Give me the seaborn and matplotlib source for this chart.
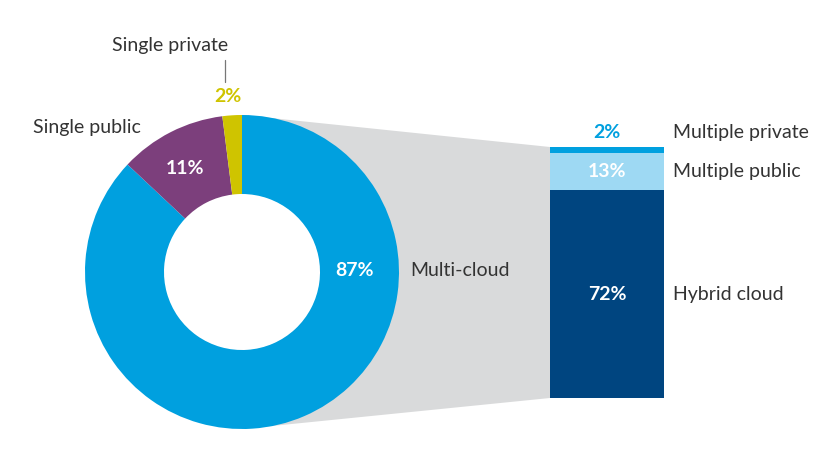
import numpy as np
import matplotlib
matplotlib.use("Agg")
import matplotlib.pyplot as plt
import seaborn as sns

# ---- data ----
donut_labels = ["Multi-cloud", "Single public", "Single private"]
donut_values = [87, 11, 2]
donut_colors = ["#00a0df", "#7c3f7c", "#cfc400"]

bar_labels = ["Hybrid cloud", "Multiple public", "Multiple private"]
bar_values = [72, 13, 2]
bar_colors = ["#004580", "#9ed9f3", "#00a0df"]
bar_text_colors = ["white", "white", "#00a0df"]

sns.set_theme(style="white")
plt.rcParams['font.family'] = ['Lato', 'DejaVu Sans']
TXT = "#333333"
GRAY = "#d9dadb"
FS = 14

W, H = 819, 463
fig = plt.figure(figsize=(W / 100, H / 100), dpi=100)
ax = fig.add_axes([0, 0, 1, 1])

# donut geometry (pixel space, y up)
cx, cy, R, ring = 242, H - 272, 157, 79

# bar axes placement
bx0, bx1, by_top, by_bot = 550, 664, 147, 398

# gray connector behind the donut
ax.fill([cx, bx0, bx0, cx], [cy + R, H - by_top, H - by_bot, cy - R],
        color=GRAY, lw=0, zorder=0)

wedges, _ = ax.pie(donut_values, colors=donut_colors, startangle=90,
                   counterclock=False, radius=R, center=(cx, cy),
                   wedgeprops=dict(width=ring, linewidth=0), frame=True)
for w in wedges:
    w.set_zorder(2)
# white hole
ax.add_patch(plt.Circle((cx, cy), R - ring + 0.5, color="white", lw=0, zorder=1))
ax.set_xlim(0, W)
ax.set_ylim(0, H)
ax.set_aspect("equal")
ax.axis("off")

# donut value labels
ax.text(355, H - 270, f"{donut_values[0]}%", color="white", fontsize=FS,
        fontweight="bold", ha="center", va="center", zorder=3)
ax.text(185, H - 168, f"{donut_values[1]}%", color="white", fontsize=FS,
        fontweight="bold", ha="center", va="center", zorder=3)
ax.text(228, H - 97, f"{donut_values[2]}%", color=donut_colors[2], fontsize=FS,
        fontweight="bold", ha="center", va="center", zorder=3)

# donut category labels
ax.text(410, H - 270, donut_labels[0], color=TXT, fontsize=FS,
        ha="left", va="center")
ax.text(33, H - 128, donut_labels[1], color=TXT, fontsize=FS,
        ha="left", va="center")
ax.text(112, H - 46, donut_labels[2], color=TXT, fontsize=FS,
        ha="left", va="center")
ax.plot([225, 225], [H - 60, H - 82], color="#777777", lw=0.9)

# ---- stacked bar ----
bax = fig.add_axes([bx0 / W, (H - by_bot) / H, (bx1 - bx0) / W,
                    (by_bot - by_top) / H])
bottoms = np.concatenate([[0], np.cumsum(bar_values)[:-1]])
bax.bar([0] * len(bar_values), bar_values, bottom=bottoms, width=1,
        color=bar_colors, linewidth=0)
bax.set_xlim(-0.5, 0.5)
bax.set_ylim(0, sum(bar_values))
bax.axis("off")

label_x = (673 - bx0) / (bx1 - bx0) - 0.5
for i, (v, b) in enumerate(zip(bar_values, bottoms)):
    if v >= 5:
        y = b + v / 2
    else:
        y = b + v + 5
    bax.text(0, y, f"{v}%", color=bar_text_colors[i], fontsize=FS,
             fontweight="bold", ha="center", va="center", clip_on=False)
    bax.text(label_x, y, bar_labels[i], color=TXT,
             fontsize=FS, ha="left", va="center", clip_on=False)

fig.savefig("out.png", dpi=100, facecolor="white")
